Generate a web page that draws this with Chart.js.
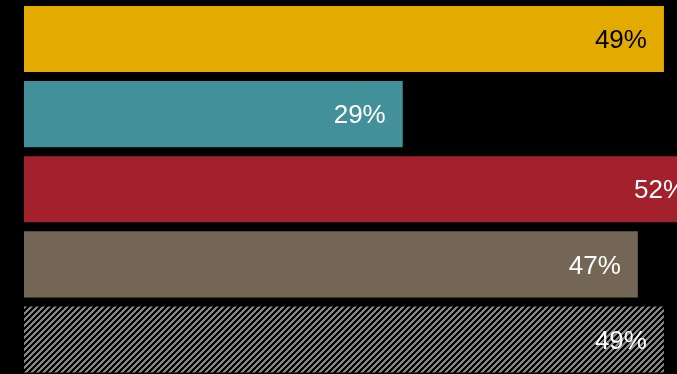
<!DOCTYPE html>
<html>
<head>
<meta charset="utf-8">
<script src="https://cdn.jsdelivr.net/npm/chart.js@4/dist/chart.umd.min.js"></script>
<style>
  html, body { margin: 0; padding: 0; background: #000; overflow: hidden; }
  #wrap { width: 677px; height: 377px; }
</style>
</head>
<body>
<div id="wrap"><canvas id="bars"></canvas></div>
<script>
const categories = ["A", "B", "C", "D", "E"];
const values = [49, 29, 52, 47, 49];
const labelColors = ["#000000", "#ffffff", "#ffffff", "#ffffff", "#ffffff"];

// crisp diagonal stripe fill for the last bar
function stripes() {
    const c = document.createElement("canvas");
    c.width = 6; c.height = 6;
    const g = c.getContext("2d");
    g.fillStyle = "#000";
    g.fillRect(0, 0, 6, 6);
    g.fillStyle = "#858585";
    for (let y = 0; y < 6; y++) {
        for (let x = 0; x < 6; x++) {
            if ((x + y) % 6 < 3) g.fillRect(x, y, 1, 1);
        }
    }
    return g.createPattern(c, "repeat");
}

const fills = ["#e3ab00", "#41909a", "#a3202d", "#746654", stripes()];

// value text at the end of each bar
const endLabels = {
    id: "endLabels",
    afterDatasetsDraw(chart) {
        const ctx = chart.ctx;
        const meta = chart.getDatasetMeta(0);
        ctx.save();
        ctx.font = "26px 'Liberation Sans', Arial, sans-serif";
        ctx.textAlign = "right";
        ctx.textBaseline = "middle";
        meta.data.forEach((bar, i) => {
            ctx.fillStyle = labelColors[i];
            ctx.fillText(values[i] + "%", bar.x - 17, bar.y + 2);
        });
        ctx.restore();
    }
};

new Chart(document.getElementById("bars"), {
    type: "bar",
    data: {
        labels: categories,
        datasets: [{
            data: values,
            backgroundColor: fills,
            borderWidth: 0,
            barPercentage: 0.88,
            categoryPercentage: 1,
            clip: false
        }]
    },
    options: {
        indexAxis: "y",
        responsive: true,
        maintainAspectRatio: false,
        animation: false,
        layout: { padding: { left: 24, top: 1.5, right: 0, bottom: 0 } },
        plugins: { legend: { display: false }, tooltip: { enabled: false } },
        scales: {
            x: { min: 0, max: 50, display: false },
            y: { display: false }
        }
    },
    plugins: [endLabels]
});
</script>
</body>
</html>
